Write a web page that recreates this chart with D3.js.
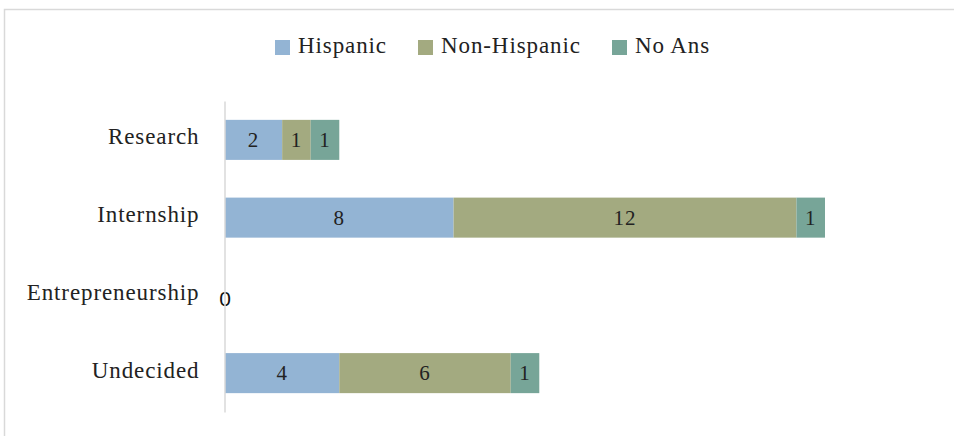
<!DOCTYPE html>
<html><head><meta charset="utf-8">
<script src="https://cdn.jsdelivr.net/npm/d3@7"></script>
<style>body{margin:0;background:#fff}svg{display:block}text{font-family:"Liberation Serif","DejaVu Serif",serif;fill:#222}</style>
</head><body><svg id="c" width="954" height="436"></svg>
<script>
const categories = ["Research","Internship","Entrepreneurship","Undecided"];
const seriesNames = ["Hispanic","Non-Hispanic","No Ans"];
const hispanic = [2,8,0,4];
const nonHispanic = [1,12,0,6];
const noAns = [1,1,0,1];
const colors = ["#93b4d4","#a3aa80","#77a598"];

const svg = d3.select("#c");
// frame
svg.append("path").attr("d","M4.5,436 V9.5 H954").attr("fill","none").attr("stroke","#d9d9d9").attr("stroke-width",1.5);

const x = d3.scaleLinear().domain([0,21]).range([225,825]);
const y = d3.scaleBand().domain(categories).range([101,412]).paddingInner(0.485).paddingOuter(0.2425);

const rows = categories.map((c,i)=>({cat:c, Hispanic:hispanic[i], "Non-Hispanic":nonHispanic[i], "No Ans":noAns[i]}));
const stack = d3.stack().keys(seriesNames)(rows);

const g = svg.append("g");
stack.forEach((s,si)=>{
  s.forEach(d=>{
    const v = d[1]-d[0];
    if(v<=0) return;
    g.append("rect").attr("x",x(d[0])).attr("y",y(d.data.cat)).attr("width",x(d[1])-x(d[0])).attr("height",y.bandwidth()).attr("fill",colors[si]);
    g.append("text").attr("x",(x(d[0])+x(d[1]))/2).attr("y",y(d.data.cat)+y.bandwidth()/2).attr("dy","0.35em")
      .attr("text-anchor","middle").attr("font-size",21).attr("letter-spacing",1).text(v);
  });
});
// zero label for empty category
categories.forEach((c,i)=>{
  const tot = hispanic[i]+nonHispanic[i]+noAns[i];
  if(tot===0){
    svg.append("text").attr("x",x(0)).attr("y",y(c)+y.bandwidth()/2+3).attr("dy","0.35em").attr("text-anchor","middle")
      .style("font-family","Liberation Sans, sans-serif").style("fill","#111").style("font-size","21px").text(0);
  }
});
// axis
const ax = svg.append("g").attr("transform",`translate(${x(0)-0.5},0)`).call(d3.axisLeft(y).tickSize(0).tickPadding(25));
ax.select(".domain").attr("stroke","#d9d9d9").attr("stroke-width",1.5);
ax.selectAll("text").style("font-family","Liberation Serif, serif").attr("font-size",23).attr("letter-spacing",0.9).attr("fill","#222").attr("dy","0.2em");

// legend
const legX = [275,418,612];
seriesNames.forEach((n,i)=>{
  svg.append("rect").attr("x",legX[i]).attr("y",40).attr("width",15).attr("height",15).attr("fill",colors[i]);
  svg.append("text").attr("x",legX[i]+23).attr("y",53).attr("font-size",23).attr("letter-spacing",0.9).text(n);
});
</script></body></html>
